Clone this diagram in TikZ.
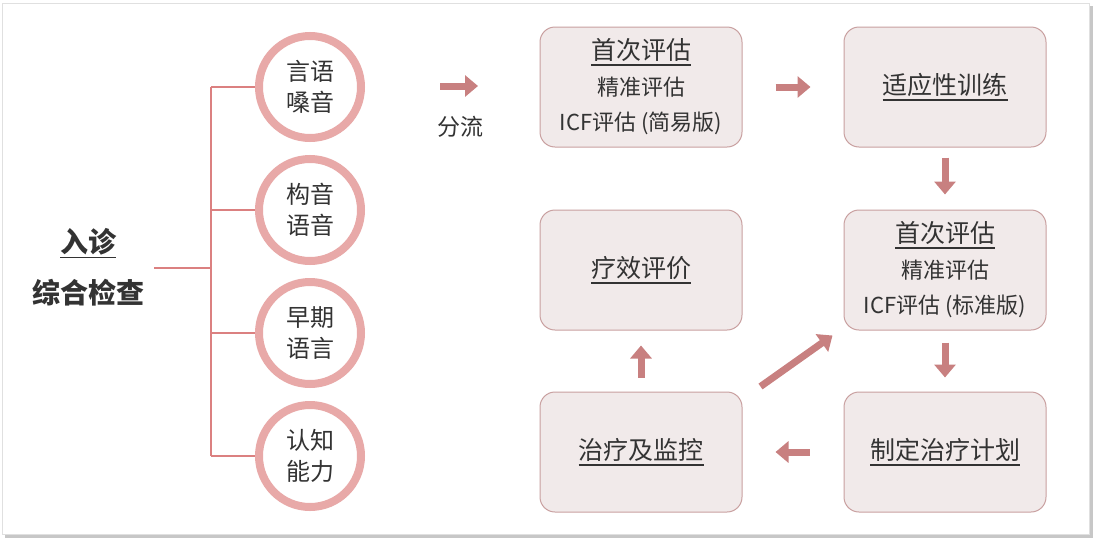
\documentclass[tikz,border=0pt]{standalone}
\usepackage{fontspec}
\setmainfont{Noto Sans CJK SC}
\usetikzlibrary{positioning, arrows.meta, shadows}

\definecolor{branchred}{HTML}{DB8080}
\definecolor{ringpink}{HTML}{E8A9A8}
\definecolor{arrowred}{HTML}{C88080}
\definecolor{boxfill}{HTML}{F1EAEA}
\definecolor{boxline}{HTML}{C9A0A0}
\definecolor{inktext}{HTML}{333333}

\newcommand{\titleline}[1]{\setbox0\hbox{#1}\rlap{\rule[-6pt]{\wd0}{1.4pt}}\box0}
\newcommand{\stagetitle}[1]{{\fontsize{25}{35.5}\selectfont\titleline{#1}}}

\tikzset{
    ring/.style={circle, draw=ringpink, line width=8pt, fill=white, minimum size=102pt,
        inner sep=0pt, align=center, text=inktext, font=\fontsize{24}{31}\selectfont,
        drop shadow={shadow xshift=2pt, shadow yshift=-3pt, opacity=0.18, fill=black}},
    stagebox/.style={rectangle, rounded corners=15pt, draw=boxline, line width=1pt,
        fill=boxfill, minimum width=202pt, minimum height=120pt, align=center,
        text=inktext, font=\fontsize{22}{35.5}\selectfont},
    branch/.style={branchred, line width=2.5pt},
    flow/.style={arrowred, line width=7pt, -{Triangle[width=21pt,length=13pt]}},
}

\begin{document}
\begin{tikzpicture}[x=1pt, y=-1pt]
    \useasboundingbox (0,0) rectangle (1100,544);
    % frame
    \fill[black!22] (5,6) rectangle (1093,538);
    \draw[black!12, fill=white] (2,3) rectangle (1089,534);

    % left part
    \node[text=inktext, font=\fontsize{28}{32}\bfseries] (entry) at (88,243) {\titleline{入诊}};
    \node[text=inktext, font=\fontsize{28}{32}\bfseries] (exam) at (88,293) {综合检查};

    \node[ring] (voice) at (310,87)  {言语\\嗓音};
    \node[ring] (artic) at (310,210) {构音\\语音};
    \node[ring] (early) at (310,333) {早期\\语言};
    \node[ring] (cogn)  at (310,456) {认知\\能力};

    \coordinate (trunk) at (211,268);
    \coordinate (top) at (211,87);
    \coordinate (bottom) at (211,456);
    \draw[branch] (154,268) -- (trunk);
    \draw[branch] (top) -- (bottom);
    \foreach \c in {voice, artic, early, cogn}
        \draw[branch] (top |- \c) -- (\c.west);

    % split
    \coordinate (splitA) at (440,86);
    \coordinate (splitB) at (478,86);
    \draw[flow] (splitA) -- (splitB);
    \node[text=inktext, font=\fontsize{23}{26}\selectfont] (split) at (460,127) {分流};

    % stages
    \node[stagebox] (first)  at (641,87)  {\stagetitle{首次评估}\\精准评估\\ICF评估 (简易版)};
    \node[stagebox] (train)  at (945,87)  {\stagetitle{适应性训练}};
    \node[stagebox] (second) at (945,270) {\stagetitle{首次评估}\\精准评估\\ICF评估 (标准版)};
    \node[stagebox] (effect) at (641,270) {\stagetitle{疗效评价}};
    \node[stagebox] (treat)  at (641,452) {\stagetitle{治疗及监控}};
    \node[stagebox] (plan)   at (945,452) {\stagetitle{制定治疗计划}};

    \draw[flow] ([xshift=33pt]first.east) -- ([xshift=-33pt]train.west);
    \draw[flow] ([yshift=-10pt]train.south) -- ([yshift=15pt]second.north);
    \draw[flow] ([yshift=-12pt]second.south) -- ([yshift=14pt]plan.north);
    \draw[flow] ([xshift=-34pt]plan.west) -- ([xshift=33pt]treat.east);
    \draw[flow] ([yshift=14pt]treat.north) -- ([yshift=-15pt]effect.south);
    \draw[flow] ([shift={(18pt,5pt)}]treat.north east) -- ([shift={(-11pt,-5pt)}]second.south west);
\end{tikzpicture}
\end{document}
